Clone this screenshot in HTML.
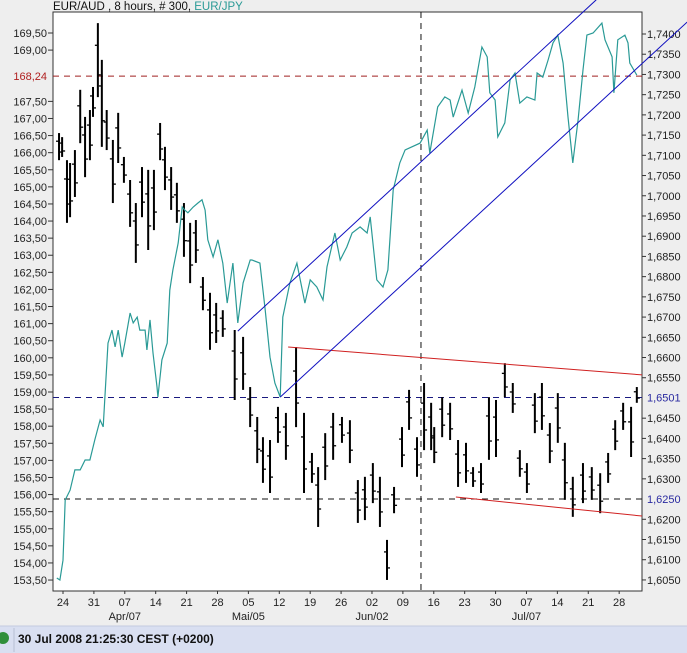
<!DOCTYPE html>
<html><head><meta charset="utf-8"><style>
html,body{margin:0;padding:0;background:#eeeeee;}
svg{display:block;font-family:"Liberation Sans",sans-serif;}
</style></head><body>
<svg id="chart" width="687" height="653" viewBox="0 0 687 653">
<defs><clipPath id="plotclip"><rect x="53" y="12" width="589" height="579"/></clipPath></defs>
<rect x="0" y="0" width="687" height="653" fill="#eeeeee"/>
<rect x="53" y="12" width="589" height="579" fill="#ffffff" stroke="#333" stroke-width="1"/>
<text x="53" y="10" font-size="11.5" fill="#111">EUR/AUD , 8 hours, # 300, <tspan fill="#2a9a96">EUR/JPY</tspan></text>
<g id="axes"></g>
<g id="series" clip-path="url(#plotclip)"></g>
<g id="overlay"></g>
<rect x="0" y="626" width="687" height="27" fill="#d9dff1"/>
<line x1="0" y1="626" x2="687" y2="626" stroke="#c4cbe0"/>
<circle cx="3" cy="638" r="6" fill="#2f8f3a"/>
<line x1="14" y1="628" x2="14" y2="652" stroke="#b8bfd4"/>
<text x="18" y="643" font-size="12" font-weight="bold" fill="#111">30 Jul 2008 21:25:30  CEST (+0200)</text>
</svg>
<script>
// EUR/AUD bars (right scale), position in days since 24 Mar
const barDays=[-0.9,-0.2,0.9,1.6,2.7,3.9,5.0,6.1,6.8,7.9,8.8,9.9,11.3,12.5,13.8,15.2,16.5,17.9,19.3,20.6,22.0,23.1,24.5,25.8,27.4,28.8,30.1,31.7,33.3,34.7,36.2,38.9,40.8,42.4,44.0,45.3,46.9,48.7,50.5,52.8,54.6,56.4,57.8,59.4,61.2,63.2,65.0,66.8,68.4,70.2,71.8,73.4,75.0,76.8,78.4,80.2,81.8,83.4,84.1,85.9,87.7,89.5,91.3,92.9,94.7,96.5,98.1,100.1,101.9,103.5,105.1,106.9,108.5,110.3,112.1,113.7,115.5,117.8,119.8,121.7,123.5,125.1,126.9,128.7,130.0];
const barHigh=[1.7155,1.7145,1.7088,1.7081,1.7113,1.7262,1.7195,1.7212,1.7269,1.7427,1.7336,1.7212,1.7138,1.7205,1.7096,1.7039,1.6982,1.7071,1.7064,1.7064,1.7180,1.7121,1.7071,1.7032,1.6982,1.6933,1.6940,1.6799,1.6760,1.6735,1.6717,1.6668,1.6651,1.6527,1.6453,1.6403,1.6396,1.6478,1.6463,1.6626,1.6463,1.6364,1.6329,1.6413,1.6463,1.6453,1.6445,1.6297,1.6305,1.6339,1.6305,1.6149,1.6280,1.6428,1.6520,1.6403,1.6537,1.6488,1.6428,1.6502,1.6488,1.6396,1.6389,1.6329,1.6339,1.6502,1.6495,1.6586,1.6537,1.6371,1.6339,1.6512,1.6537,1.6438,1.6512,1.6389,1.6305,1.6339,1.6329,1.6314,1.6364,1.6445,1.6488,1.6478,1.6527];
const barLow=[1.7088,1.7096,1.6933,1.6947,1.6997,1.7130,1.7046,1.7088,1.7195,1.7244,1.7121,1.7113,1.6982,1.7081,1.7032,1.6923,1.6834,1.6947,1.6866,1.6915,1.7088,1.7014,1.6965,1.6933,1.6849,1.6784,1.6834,1.6717,1.6619,1.6636,1.6651,1.6495,1.6520,1.6428,1.6339,1.6290,1.6265,1.6389,1.6347,1.6428,1.6265,1.6290,1.6181,1.6297,1.6347,1.6389,1.6339,1.6191,1.6198,1.6240,1.6181,1.6050,1.6215,1.6329,1.6421,1.6305,1.6371,1.6371,1.6339,1.6403,1.6396,1.6280,1.6290,1.6280,1.6265,1.6347,1.6354,1.6502,1.6463,1.6305,1.6265,1.6413,1.6421,1.6339,1.6389,1.6248,1.6206,1.6240,1.6248,1.6215,1.6290,1.6371,1.6421,1.6354,1.6488];
// EUR/JPY line (left scale)
const lineDays=[-1.4,-0.7,0,0.5,1.6,2.7,3.9,5.0,6.1,7.2,8.4,9.1,9.5,10.2,11.1,11.8,12.5,13.4,14.0,15.2,15.9,16.8,17.4,18.6,19.0,19.7,20.4,21.3,21.5,22.4,23.6,24.2,24.9,26.1,27.0,27.6,28.3,29.5,30.6,31.5,32.2,32.8,34.0,35.1,36.2,37.2,38.5,39.6,40.8,42.4,42.8,44.6,45.8,46.9,48.0,49.2,49.8,51.4,53.0,54.8,56.0,57.5,58.9,59.8,61.6,62.8,64.3,65.5,67.3,68.9,69.6,71.1,72.5,73.6,74.8,76.3,77.5,80.9,82.5,83.1,84.9,86.5,87.7,88.4,90.4,91.8,93.3,94.9,96.1,96.7,97.9,98.5,100.1,101.3,102.4,103.5,105.1,106.9,107.4,108.7,109.9,111.0,112.1,113.3,114.4,115.5,116.7,117.8,118.7,120.1,122.1,122.8,124.4,124.8,125.7,127.3,128.0,128.4,130.0];
const lineVals=[153.56,153.50,154.08,155.84,156.13,156.72,156.72,157.01,157.01,157.60,158.18,157.98,158.85,160.43,160.81,160.32,160.81,160.02,160.43,161.31,161.02,161.19,160.81,160.81,160.23,161.11,160.14,159.15,158.85,159.94,160.43,161.98,162.57,163.36,164.41,164.32,164.24,164.41,164.53,164.62,164.32,163.45,162.95,163.45,162.77,161.60,162.77,161.02,162.19,162.86,162.86,162.77,161.40,160.02,159.26,158.85,161.19,162.19,162.77,161.60,162.28,162.07,161.69,162.66,163.65,162.86,163.24,163.65,163.83,163.65,164.12,162.28,162.07,162.57,164.91,165.70,166.08,166.28,166.66,165.99,167.34,167.63,167.54,167.04,167.83,167.16,167.92,169.09,168.80,167.75,167.54,166.46,166.87,168.13,168.33,167.45,167.63,167.54,168.33,168.21,168.71,169.21,169.44,168.62,167.04,165.70,166.96,168.42,169.44,169.50,169.79,169.30,168.80,167.75,169.30,169.44,169.21,168.62,168.27];
const leftTicks=[153.5,154,154.5,155,155.5,156,156.5,157,157.5,158,158.5,159,159.5,160,160.5,161,161.5,162,162.5,163,163.5,164,164.5,165,165.5,166,166.5,167,167.5,169,169.5];
const rightTicks=[1.605,1.61,1.615,1.62,1.63,1.635,1.64,1.645,1.655,1.66,1.665,1.67,1.675,1.68,1.685,1.69,1.695,1.70,1.705,1.71,1.715,1.72,1.725,1.73,1.735,1.74];
const dateLabels=['24','31','07','14','21','28','05','12','19','26','02','09','16','23','30','07','14','21','28'];
const monthLabels=['Apr/07','Mai/05','Jun/02','Jul/07'];
const monthDays=[14,42,70,105];
const redLevel=168.24, blueLevel=1.6501, blackLevel=1.6250, vlineDay=81.1;
const upperChannel=[[39.6,160.78],[120.8,170.47]];
const lowerChannel=[[49.2,158.85],[141.4,169.82]];
const redUpper=[[51.0,1.6626],[131.2,1.6557]];
const redLower=[[89.0,1.6255],[131.2,1.6208]];

const NS='http://www.w3.org/2000/svg';
const xD=d=>63+d*4.414;
const yL=v=>33+(169.5-v)*34.19;
const yR=v=>34+(1.74-v)*4044;
function mk(tag,attrs,parent){const e=document.createElementNS(NS,tag);for(const k in attrs)e.setAttribute(k,attrs[k]);parent.appendChild(e);return e;}
const axes=document.getElementById('axes'),series=document.getElementById('series'),overlay=document.getElementById('overlay');
const fmt=(v,d)=>v.toFixed(d).replace('.',',');

leftTicks.forEach(v=>{const y=yL(v);
 const t=mk('line',{x1:48,y1:y,x2:53,y2:y,stroke:'#333'},axes);
 
 
 const tx=mk('text',{x:47,y:y+4,'font-size':11,'text-anchor':'end',fill:'#222'},axes);tx.textContent=fmt(v,2);
 
 });
rightTicks.forEach(v=>{const y=yR(v);
 const t=mk('line',{x1:642,y1:y,x2:646,y2:y,stroke:'#333'},axes);
 
 
 const tx=mk('text',{x:647,y:y+4,'font-size':11,fill:'#222'},axes);tx.textContent=fmt(v,4);
 
 });
dateLabels.forEach((l,i)=>{const x=xD(i*7);
 const t=mk('line',{x1:x,y1:591,x2:x,y2:594,stroke:'#333'},axes);
 
 
 const tx=mk('text',{x:x,y:606,'font-size':11,'text-anchor':'middle',fill:'#222'},axes);tx.textContent=l;
 
 });
monthLabels.forEach((l,i)=>{const tx=mk('text',{x:xD(monthDays[i]),y:620,'font-size':11,'text-anchor':'middle',fill:'#222'},axes);tx.textContent=l;
 
 });

let e;
e=mk('line',{x1:53,y1:yL(redLevel),x2:642,y2:yL(redLevel),stroke:'#a02020','stroke-dasharray':'6,5'},series);


e=mk('line',{x1:53,y1:yR(blueLevel),x2:642,y2:yR(blueLevel),stroke:'#1a1a80','stroke-dasharray':'6,5'},series);


e=mk('line',{x1:53,y1:yR(blackLevel),x2:642,y2:yR(blackLevel),stroke:'#111','stroke-dasharray':'6,5'},series);


e=mk('line',{x1:xD(vlineDay),y1:12,x2:xD(vlineDay),y2:591,stroke:'#111','stroke-dasharray':'6,5'},series);


e=mk('text',{x:47,y:yL(redLevel)+4,'font-size':11,'text-anchor':'end',fill:'#b02020'},axes);e.textContent=fmt(redLevel,2);


e=mk('text',{x:647,y:yR(blueLevel)+4,'font-size':11,fill:'#2a2aa0'},axes);e.textContent=fmt(blueLevel,4);


e=mk('text',{x:647,y:yR(blackLevel)+4,'font-size':11,fill:'#2a2aa0'},axes);e.textContent=fmt(blackLevel,4);



barDays.forEach((d,i)=>{const x=xD(d),yh=yR(barHigh[i]),yl=yR(barLow[i]);
 const g=mk('g',{},series);
 
 
 mk('line',{x1:x,y1:yh,x2:x,y2:yl,stroke:'#000','stroke-width':2},g);
 const ym=(yh+yl)/2;
 mk('line',{x1:x-3,y1:ym-(yl-yh)*0.2,x2:x,y2:ym-(yl-yh)*0.2,stroke:'#000','stroke-width':1.3},g);
 mk('line',{x1:x,y1:ym+(yl-yh)*0.2,x2:x+3,y2:ym+(yl-yh)*0.2,stroke:'#000','stroke-width':1.3},g);});

const pts=lineDays.map((d,i)=>xD(d).toFixed(1)+','+yL(lineVals[i]).toFixed(1)).join(' ');
e=mk('polyline',{points:pts,fill:'none',stroke:'#2a9a96','stroke-width':1.2},series);



function seg(p,ys,color,name,clipRight){let x1=xD(p[0][0]),y1=ys(p[0][1]),x2=xD(p[1][0]),y2=ys(p[1][1]);
 const l=mk('line',{x1:x1,y1:y1,x2:x2,y2:y2,stroke:color,'stroke-width':1},clipRight?series:overlay);
 
 }
seg(upperChannel,yL,'#1010c0','upper-channel-line',false);
seg(lowerChannel,yL,'#1010c0','lower-channel-line',false);
seg(redUpper,yR,'#d02020','red-upper-trendline',true);
seg(redLower,yR,'#d02020','red-lower-trendline',true);
</script>
</body></html>
